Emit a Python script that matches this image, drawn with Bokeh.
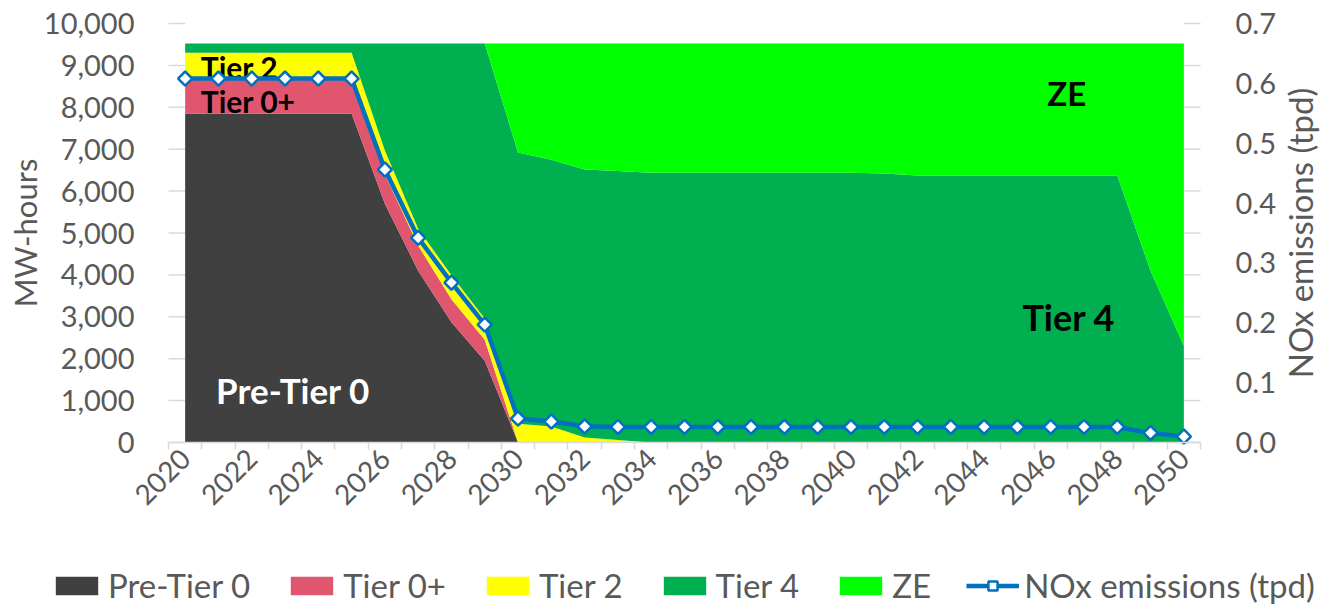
import math
from bokeh.plotting import figure
from bokeh.models import (ColumnDataSource, Range1d, LinearAxis, FixedTicker,
                          NumeralTickFormatter, Legend, LegendItem, Label)
from bokeh.core.properties import value
from bokeh.embed import file_html
from bokeh.resources import INLINE

# ---------------- data ----------------
years = [2020, 2021, 2022, 2023, 2024, 2025, 2026, 2027, 2028, 2029,
         2030, 2031, 2032, 2033, 2034, 2035, 2036, 2037, 2038, 2039,
         2040, 2041, 2042, 2043, 2044, 2045, 2046, 2047, 2048, 2049, 2050]
pre_tier0 = [7850, 7850, 7850, 7850, 7850, 7850, 5700, 4100, 2870, 1950,
             0, 0, 0, 0, 0, 0, 0, 0, 0, 0,
             0, 0, 0, 0, 0, 0, 0, 0, 0, 0, 0]
tier0p = [800, 800, 800, 800, 800, 800, 700, 600, 550, 500,
          0, 0, 0, 0, 0, 0, 0, 0, 0, 0,
          0, 0, 0, 0, 0, 0, 0, 0, 0, 0, 0]
tier2 = [650, 650, 650, 650, 650, 650, 570, 400, 570, 510,
         450, 380, 120, 60, 0, 0, 0, 0, 0, 0,
         0, 0, 0, 0, 0, 0, 0, 0, 0, 0, 0]
tier4 = [220, 220, 220, 220, 220, 220, 2550, 4420, 5530, 6560,
         6470, 6370, 6395, 6420, 6440, 6440, 6440, 6440, 6440, 6440,
         6440, 6420, 6370, 6370, 6370, 6370, 6370, 6370, 6370, 4100, 2310]
ze = [0, 0, 0, 0, 0, 0, 0, 0, 0, 0,
      2600, 2770, 3005, 3040, 3080, 3080, 3080, 3080, 3080, 3080,
      3080, 3100, 3150, 3150, 3150, 3150, 3150, 3150, 3150, 5420, 7210]
nox = [0.608, 0.608, 0.608, 0.608, 0.608, 0.608, 0.456, 0.342, 0.267, 0.197,
       0.040, 0.035, 0.027, 0.026, 0.026, 0.026, 0.026, 0.026, 0.026, 0.026,
       0.026, 0.026, 0.026, 0.026, 0.026, 0.026, 0.026, 0.026, 0.026, 0.016, 0.010]

series_names = ["Pre-Tier 0", "Tier 0+", "Tier 2", "Tier 4", "ZE"]
series_colors = ["#404040", "#E0566F", "#FFFF00", "#00B050", "#00FF00"]
line_name = "NOx emissions (tpd)"
left_title = "MW-hours"
line_color = "#0070C0"

left_ticks = [0, 1000, 2000, 3000, 4000, 5000, 6000, 7000, 8000, 9000, 10000]
right_ticks = [0.0, 0.1, 0.2, 0.3, 0.4, 0.5, 0.6, 0.7]
x_label_years = [2020, 2022, 2024, 2026, 2028, 2030, 2032, 2034, 2036, 2038,
                 2040, 2042, 2044, 2046, 2048, 2050]

# in-chart labels: (text, x-year, y-MWh (centre), colour, size)
area_labels = [
    ("Tier 2", 2020.47, 8960, "black", "30px"),
    ("Tier 0+", 2020.47, 8150, "black", "30px"),
    ("Pre-Tier 0", 2020.93, 1260, "white", "35px"),
    ("ZE", 2045.9, 8340, "black", "33px"),
    ("Tier 4", 2045.15, 2995, "black", "36px"),
]

# ---------------- layout constants (pixels) ----------------
W, H = 1330, 609
FL, FR, FT, FB = 168, 1200, 23, 442          # plot area edges on the canvas
FONT = "Lato"
GREY = "#595959"
LINEGREY = "#d9d9d9"

x0, x1 = years[0] - 0.5, years[-1] + 0.5
ppx = (FR - FL) / (x1 - x0)
ppy = (FB - FT) / (left_ticks[-1] - left_ticks[0])
ppn = (FB - FT) / (right_ticks[-1] - right_ticks[0])

src = ColumnDataSource(dict(year=years, pre=pre_tier0, t0p=tier0p, t2=tier2,
                            t4=tier4, ze=ze, nox=nox))

p = figure(width=W, height=H,
           x_range=Range1d(x0 - FL / ppx, x1 + (W - FR) / ppx),
           y_range=Range1d(left_ticks[0] - (H - FB) / ppy, left_ticks[-1] + FT / ppy),
           output_backend="svg", toolbar_location=None, min_border=0)
p.outline_line_color = None
p.background_fill_color = "white"
p.grid.visible = False
p.extra_y_ranges = {"nox": Range1d(right_ticks[0] - (H - FB) / ppn,
                                   right_ticks[-1] + FT / ppn)}

# short grid stubs at both ends of the plot area (Excel-like)
n = len(left_ticks)
p.segment(x0=[x0] * n, y0=left_ticks, x1=[years[0]] * n, y1=left_ticks,
          line_color=LINEGREY, line_width=1.5)
p.segment(x0=[years[-1]] * n, y0=left_ticks, x1=[x1] * n, y1=left_ticks,
          line_color=LINEGREY, line_width=1.5)

areas = p.varea_stack(stackers=["pre", "t0p", "t2", "t4", "ze"], x="year",
                      color=series_colors, source=src)

for txt, lx, ly, col, fs in area_labels:
    p.text(x=[lx], y=[ly], text=[txt], text_font=value(FONT),
           text_font_size=value(fs), text_font_style="bold",
           text_color=col, text_baseline="middle", text_align="left")

ln = p.line("year", "nox", source=src, y_range_name="nox",
            line_color=line_color, line_width=4.5)
sc = p.scatter("year", "nox", source=src, y_range_name="nox", marker="square",
               angle=math.pi / 4, size=10, fill_color="white",
               line_color=line_color, line_width=2.5)

# left axis
ya = p.yaxis[0]
ya.fixed_location = x0
ya.bounds = (left_ticks[0], left_ticks[-1])
ya.ticker = FixedTicker(ticks=left_ticks)
ya.formatter = NumeralTickFormatter(format="0,0")
ya.axis_line_color = None
ya.major_tick_line_color = None
ya.minor_tick_line_color = None
ya.major_label_standoff = 28
ya.major_label_text_font = FONT
ya.major_label_text_font_size = "29px"
ya.major_label_text_color = GREY

# right axis
ra = LinearAxis(y_range_name="nox", ticker=FixedTicker(ticks=right_ticks),
                formatter=NumeralTickFormatter(format="0.0"),
                fixed_location=x1, bounds=(right_ticks[0], right_ticks[-1]))
ra.axis_line_color = None
ra.major_tick_line_color = None
ra.minor_tick_line_color = None
ra.major_label_standoff = 29
ra.major_label_text_font = FONT
ra.major_label_text_font_size = "29px"
ra.major_label_text_color = GREY
p.add_layout(ra, "right")

# x axis
xa = p.xaxis[0]
xa.fixed_location = left_ticks[0]
xa.bounds = (x0, x1)
xa.ticker = FixedTicker(ticks=x_label_years,
                        minor_ticks=[y - 0.5 for y in years] + [x1])
xa.major_tick_line_color = None
xa.minor_tick_line_color = LINEGREY
xa.minor_tick_line_width = 1.5
xa.minor_tick_in = 0
xa.minor_tick_out = 7
xa.axis_line_color = LINEGREY
xa.axis_line_width = 1.5
xa.major_label_orientation = math.pi / 4
xa.major_label_standoff = 4
xa.major_label_text_font = FONT
xa.major_label_text_font_size = "28px"
xa.major_label_text_color = GREY

# axis titles (both read bottom to top)
p.add_layout(Label(x=24, y=H - (FT + FB) / 2, x_units="screen", y_units="screen",
                   text=left_title, angle=math.pi / 2, text_align="center",
                   text_baseline="middle", text_font=FONT, text_font_size="31px",
                   text_color=GREY))
p.add_layout(Label(x=1299, y=H - (FT + FB) / 2, x_units="screen", y_units="screen",
                   text=line_name, angle=math.pi / 2, text_align="center",
                   text_baseline="middle", text_font=FONT, text_font_size="33px",
                   text_color=GREY))

items = [LegendItem(label=nm, renderers=[r]) for nm, r in zip(series_names, areas)]
items.append(LegendItem(label=line_name, renderers=[ln, sc]))
legend = Legend(items=items, orientation="horizontal", location=(50, 4),
                glyph_width=53, glyph_height=23, label_standoff=5, spacing=35,
                padding=0, margin=0, border_line_color=None,
                background_fill_alpha=0,
                label_text_font=FONT, label_text_font_size="33px",
                label_text_color=GREY)
p.add_layout(legend, "center")

open("out.html", "w").write(file_html(p, INLINE))
